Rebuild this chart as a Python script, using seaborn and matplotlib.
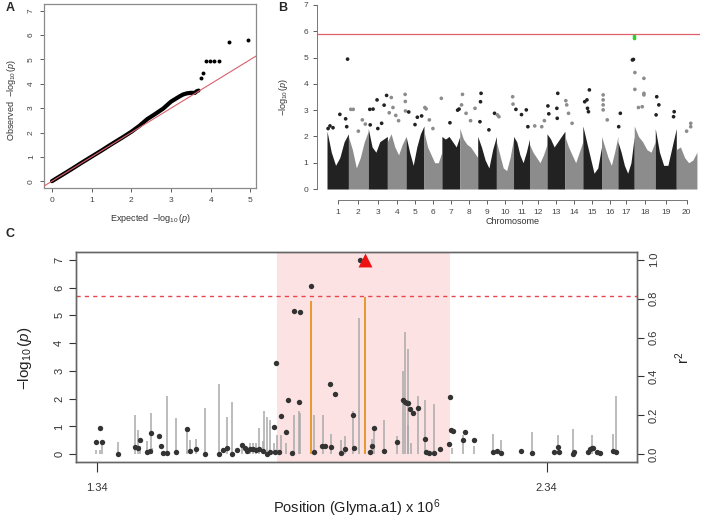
import numpy as np
import pandas as pd
import matplotlib
matplotlib.use('Agg')
import matplotlib.pyplot as plt
import seaborn as sns

sns.set_style('ticks')
plt.rcParams['font.family'] = ['Liberation Sans', 'DejaVu Sans']
plt.rcParams['mathtext.fontset'] = 'custom'
plt.rcParams['mathtext.rm'] = 'Liberation Sans'
plt.rcParams['mathtext.it'] = 'Liberation Sans:italic'

# ---- A: QQ plot ----
qq_exp = [0.0, 0.25, 0.5, 0.75, 1.0, 1.25, 1.5, 1.75, 2.0, 2.2, 2.4, 2.6, 2.8,
          3.0, 3.1, 3.2, 3.3, 3.4, 3.5, 3.6, 3.65]
qq_obs = [0.0, 0.25, 0.5, 0.76, 1.01, 1.26, 1.52, 1.77, 2.03, 2.27, 2.55, 2.76, 2.98,
          3.27, 3.37, 3.47, 3.56, 3.61, 3.63, 3.63, 3.70]
qq_top_exp = [3.68, 3.75, 3.80, 3.88, 3.97, 4.07, 4.22, 4.45, 4.94]
qq_top_obs = [3.75, 4.22, 4.44, 4.93, 4.95, 4.95, 4.95, 5.71, 5.82]

# ---- B: Manhattan plot ----
chrom_mb = [55, 51, 49, 48, 46, 46, 46, 46, 48, 44, 41, 45, 46, 46, 48, 42, 42, 54, 54, 53]
prof_rel = [0.0, 0.2, 0.4, 0.6, 0.8, 1.0]
chrom_profile = [
    [2.2, 1.4, 0.9, 1.2, 1.8, 2.1],
    [2.0, 1.5, 0.8, 1.2, 1.8, 2.2],
    [2.3, 1.6, 1.4, 1.8, 1.9, 2.0],
    [1.8, 2.1, 1.6, 1.3, 1.7, 2.0],
    [2.0, 1.4, 0.9, 1.6, 2.1, 2.4],
    [2.2, 1.6, 1.3, 1.0, 1.0, 1.4],
    [2.0, 1.9, 2.0, 1.8, 1.6, 2.0],
    [2.3, 1.9, 1.7, 1.6, 1.4, 1.2],
    [2.0, 1.6, 1.1, 0.8, 1.5, 2.0],
    [1.8, 1.3, 0.8, 0.7, 1.2, 1.9],
    [2.0, 1.8, 1.3, 1.0, 1.4, 1.9],
    [1.7, 1.4, 1.2, 1.0, 1.3, 1.7],
    [2.1, 1.9, 1.6, 1.8, 2.0, 2.2],
    [2.0, 1.6, 1.3, 1.0, 1.4, 1.8],
    [2.4, 1.8, 1.2, 0.6, 0.8, 1.6],
    [2.0, 1.6, 1.2, 0.9, 1.4, 2.0],
    [1.8, 1.4, 0.9, 0.6, 1.0, 2.0],
    [2.4, 2.0, 1.8, 1.5, 1.4, 1.8],
    [2.3, 1.4, 0.9, 0.9, 1.6, 2.3],
    [1.5, 1.6, 1.2, 1.0, 1.1, 1.4],
]
hit_chr = [1, 1, 1, 1, 1, 1, 1,
           2, 2, 2, 2, 2,
           3, 3, 3, 3, 3, 3, 3, 3,
           4, 4, 4, 4, 4, 4, 4, 4,
           5, 5, 5, 5,
           6, 6, 6, 6, 6,
           7, 7, 7,
           8, 8, 8, 8, 8,
           9, 9, 9, 9, 9,
           10, 10, 10, 10,
           11, 11, 11, 11,
           12, 12, 12,
           13, 13, 13, 13, 13,
           14, 14, 14, 14,
           15, 15, 15, 15, 15,
           16, 16, 16, 16, 16,
           17, 17, 17, 17,
           18, 18, 18, 18, 18, 18, 18,
           19, 19, 19, 19, 19,
           20, 20, 20]
hit_rel = [0.14, 0.28, 0.60, 0.87, 0.92, 0.96, 0.05,
           0.12, 0.24, 0.70, 0.85, 0.50,
           0.08, 0.25, 0.46, 0.83, 0.96, 0.10, 0.50, 0.70,
           0.10, 0.21, 0.30, 0.45, 0.60, 0.95, 0.96, 0.97,
           0.15, 0.63, 0.87, 0.50,
           0.05, 0.12, 0.30, 0.50, 0.97,
           0.45, 0.88, 0.96,
           0.15, 0.10, 0.35, 0.85, 0.60,
           0.18, 0.15, 0.12, 0.60, 0.90,
           0.06, 0.15, 0.95, 0.97,
           0.15, 0.50, 0.80, 0.90,
           0.30, 0.70, 0.85,
           0.05, 0.10, 0.60, 0.55, 0.57,
           0.05, 0.10, 0.20, 0.40,
           0.35, 0.22, 0.10, 0.25, 0.30,
           0.10, 0.10, 0.10, 0.10, 0.35,
           0.15, 0.05, 0.89, 0.95,
           0.03, 0.03, 0.46, 0.46, 0.46, 0.38, 0.20,
           0.07, 0.17, 0.04, 0.90, 0.87,
           0.70, 0.70, 0.50]
hit_val = [2.40, 2.33, 2.84, 2.67, 2.37, 4.94, 2.30,
           3.03, 3.03, 2.63, 2.47, 2.20,
           3.03, 3.04, 3.39, 3.19, 3.56, 2.44, 2.30, 2.50,
           2.90, 3.48, 3.10, 2.80, 2.60, 3.60, 3.33, 2.97,
           2.93, 2.73, 2.78, 2.45,
           3.10, 3.05, 2.63, 2.30, 3.45,
           2.52, 3.00, 3.04,
           3.60, 3.20, 2.88, 3.07, 2.60,
           3.64, 3.32, 2.56, 2.25, 2.88,
           2.82, 2.75, 3.51, 3.23,
           3.03, 2.83, 3.01, 2.37,
           2.40, 2.37, 2.60,
           3.16, 2.86, 3.64, 3.07, 2.69,
           3.36, 3.20, 2.88, 2.50,
           3.77, 3.39, 3.32, 3.07, 2.94,
           3.58, 3.39, 3.20, 3.01, 2.63,
           2.88, 2.37, 4.91, 4.93,
           4.43, 3.79, 4.21, 3.64, 3.58, 3.13, 3.10,
           3.51, 3.20, 2.82, 2.94, 2.75,
           2.50, 2.37, 2.20]
sig_chr = [17, 17]
sig_rel = [0.97, 0.97]
sig_val = [5.82, 5.73]
gw_threshold = 5.9

# ---- C: regional plot ----
snp_pos = [1.339, 1.347, 1.352, 1.388, 1.425, 1.431, 1.437, 1.451, 1.458, 1.460,
           1.478, 1.482, 1.487, 1.497, 1.517, 1.540, 1.547, 1.561, 1.581, 1.611,
           1.620, 1.630, 1.640, 1.652, 1.663, 1.670, 1.675, 1.681, 1.688, 1.694,
           1.701, 1.709, 1.718, 1.726, 1.734, 1.736, 1.738, 1.746, 1.749, 1.761,
           1.765, 1.775, 1.778, 1.789, 1.792, 1.816, 1.822, 1.841, 1.848, 1.859,
           1.861, 1.870, 1.882, 1.893, 1.909, 1.913, 1.925, 1.947, 1.952, 1.957,
           1.979, 2.007, 2.020, 2.025, 2.029, 2.032, 2.036, 2.043, 2.055, 2.070,
           2.072, 2.079, 2.090, 2.104, 2.122, 2.126, 2.127, 2.132, 2.155, 2.158,
           2.178, 2.220, 2.229, 2.238, 2.284, 2.308, 2.357, 2.365, 2.368, 2.399,
           2.401, 2.431, 2.436, 2.440, 2.444, 2.451, 2.459, 2.487, 2.494]
snp_logp = [0.44, 0.95, 0.44, 0.00, 0.26, 0.21, 0.51, 0.07, 0.11, 0.78,
            0.66, 0.30, 0.05, 0.06, 0.08, 0.90, 0.12, 0.19, 0.02, 0.00,
            0.14, 0.21, 0.01, 0.14, 0.34, 0.23, 0.11, 0.17, 0.17, 0.16,
            0.18, 0.11, 0.02, 0.07, 0.98, 0.08, 3.30, 0.08, 1.38, 0.80,
            1.94, 0.03, 5.15, 1.89, 5.13, 6.05, 0.08, 0.29, 0.29, 2.54,
            0.26, 2.15, 0.06, 0.18, 1.41, 0.22, 7.00, 0.07, 0.29, 0.94,
            0.12, 0.45, 1.96, 1.88, 1.86, 1.86, 1.64, 1.49, 1.66, 0.56,
            0.07, 0.06, 0.06, 0.17, 0.38, 2.05, 0.87, 0.84, 0.51, 0.80,
            0.51, 0.08, 0.10, 0.05, 0.11, 0.05, 0.07, 0.26, 0.07, 0.00,
            0.08, 0.09, 0.20, 0.21, 0.21, 0.08, 0.06, 0.10, 0.08]
ld_pos = [1.339, 1.347, 1.352, 1.388, 1.425, 1.431, 1.437, 1.451, 1.460, 1.463,
          1.497, 1.517, 1.540, 1.547, 1.561, 1.581, 1.611, 1.630, 1.640, 1.663,
          1.681, 1.688, 1.694, 1.701, 1.709, 1.712, 1.718, 1.726, 1.734, 1.741,
          1.750, 1.761, 1.778, 1.789, 1.792, 1.822, 1.843, 1.861, 1.882, 1.893,
          1.909, 1.924, 1.952, 1.957, 1.979, 2.007, 2.020, 2.025, 2.031, 2.033,
          2.038, 2.055, 2.070, 2.090, 2.130, 2.155, 2.178, 2.220, 2.238, 2.308,
          2.365, 2.399, 2.440, 2.487, 2.494]
ld_r2 = [0.02, 0.02, 0.07, 0.064, 0.20, 0.125, 0.04, 0.068, 0.21, 0.03,
         0.30, 0.185, 0.125, 0.073, 0.077, 0.24, 0.36, 0.19, 0.27, 0.04,
         0.06, 0.06, 0.06, 0.135, 0.07, 0.22, 0.19, 0.175, 0.06, 0.10,
         0.10, 0.056, 0.20, 0.22, 0.21, 0.20, 0.20, 0.104, 0.073, 0.094,
         0.22, 0.70, 0.077, 0.128, 0.176, 0.094, 0.43, 0.63, 0.54, 0.15,
         0.06, 0.30, 0.28, 0.26, 0.03, 0.099, 0.04, 0.104, 0.073, 0.116,
         0.099, 0.13, 0.099, 0.104, 0.30]
top_ld_pos = [1.816, 1.936]
top_ld_r2 = [0.79, 0.81]
lead_pos = [1.937]
lead_logp = [7.0]
candidate_region = (1.74, 2.125)
region_threshold = 5.68

W, H = 708, 520
fig = plt.figure(figsize=(W / 100, H / 100), dpi=100)


def px_axes(l, t, r, b):
    return fig.add_axes([l / W, 1 - b / H, (r - l) / W, (b - t) / H])


tick_col = '#444444'

# ---------- A ----------
axA = px_axes(44, 4, 256, 188)
sns.lineplot(x=qq_exp, y=qq_obs, ax=axA, color='black', lw=3.0, sort=False, zorder=2)
sns.scatterplot(x=qq_top_exp, y=qq_top_obs, ax=axA, color='black', s=8, linewidth=0, zorder=3)
axA.axline((0, 0), slope=1, color='#d9606c', lw=0.8, zorder=4)
axA.set_xlim(-0.2, 5.14)
axA.set_ylim(-0.28, 7.28)
axA.set_xticks(range(0, 6))
axA.set_yticks(range(0, 8))
axA.set_xlabel('')
axA.set_ylabel('')
for s in axA.spines.values():
    s.set_color('#8a8a8a')
    s.set_linewidth(0.9)
axA.tick_params(labelsize=6, colors=tick_col, length=3, width=0.6)
axA.tick_params(axis='y', labelrotation=90)
for lab in axA.get_yticklabels():
    lab.set_va('center')
fig.text(150 / W, 1 - 218 / H, r'Expected  $-\log_{10}(p)$', ha='center', va='center',
         fontsize=6.5, color='#333333')
fig.text(12 / W, 1 - 100 / H, r'Observed  $-\log_{10}(p)$', ha='center', va='center',
         rotation=90, fontsize=6.5, color='#333333')

# ---------- B ----------
axB = px_axes(317, 0, 700, 196)
offsets = np.concatenate([[0], np.cumsum(chrom_mb)[:-1]])
centers = offsets + np.array(chrom_mb) / 2
for i, (off, ln, prof) in enumerate(zip(offsets, chrom_mb, chrom_profile)):
    col = '#222222' if i % 2 == 0 else '#8c8c8c'
    xs = off + np.array(prof_rel) * ln
    axB.fill_between(xs, 0, prof, color=col, lw=0, zorder=2)
hits = pd.DataFrame({'chr': hit_chr, 'rel': hit_rel, 'val': hit_val})
hits['x'] = offsets[hits.chr - 1] + hits.rel * np.array(chrom_mb)[hits.chr - 1]
hits['col'] = np.where(hits.chr % 2 == 1, 'odd', 'even')
sns.scatterplot(data=hits, x='x', y='val', hue='col', palette={'odd': '#222222', 'even': '#8c8c8c'},
                s=7, linewidth=0, ax=axB, legend=False, zorder=3)
sig_x = offsets[np.array(sig_chr) - 1] + np.array(sig_rel) * np.array(chrom_mb)[np.array(sig_chr) - 1]
sns.scatterplot(x=sig_x, y=sig_val, color='#2fcf2f', s=7, linewidth=0, ax=axB, zorder=4)
axB.axhline(gw_threshold, color='#e0606a', lw=0.9, zorder=1)
axB.set_xlim(-25.7, 957.9)
axB.set_ylim(-0.266, 7.19)
axB.set_xticks(centers)
axB.set_xticklabels([str(i) for i in range(1, 21)])
axB.set_yticks(range(0, 8))
axB.set_xlabel('')
axB.set_ylabel('')
for k in ['top', 'right']:
    axB.spines[k].set_visible(False)
axB.spines['left'].set_bounds(0, 7)
axB.spines['bottom'].set_bounds(centers[0], centers[-1])
axB.spines['bottom'].set_position(('outward', 3))
for k in ['left', 'bottom']:
    axB.spines[k].set_color('#777777')
    axB.spines[k].set_linewidth(0.7)
axB.tick_params(labelsize=6, colors=tick_col, length=3, width=0.6)
fig.text(512 / W, 1 - 222 / H, 'Chromosome', ha='center', va='center', fontsize=6.5, color='#333333')
fig.text(283 / W, 1 - 97 / H, r'$-\log_{10}(p)$', ha='center', va='center', rotation=90,
         fontsize=6.5, color='#333333')

# ---------- C ----------
axC = px_axes(76, 252, 637, 462)
axR = axC.twinx()
axR.axvspan(*candidate_region, color='#fde2e3', lw=0, zorder=0)
axR.vlines(ld_pos, 0, ld_r2, color='#a9a9a9', lw=1.1, zorder=2)
axR.vlines(top_ld_pos, 0, top_ld_r2, color='#e8972e', lw=1.4, zorder=3)
axR.set_ylim(-0.04, 1.04)
axR.set_yticks(np.arange(0, 1.01, 0.2))
axR.set_yticklabels(['0.0', '0.2', '0.4', '0.6', '0.8', '1.0'])
axC.set_zorder(axR.get_zorder() + 1)
axC.patch.set_visible(False)
axC.axhline(region_threshold, color='#e8454d', lw=1, ls=(0, (3, 3)), zorder=1)
sns.scatterplot(x=snp_pos, y=snp_logp, color='#333333', s=15, linewidth=0, ax=axC, zorder=3)
sns.scatterplot(x=lead_pos, y=lead_logp, color='#ee1111', marker='^', s=100, linewidth=0,
                ax=axC, zorder=4)
axC.set_xlim(1.294, 2.541)
axC.set_ylim(-0.28, 7.28)
axC.set_xticks([1.34, 2.34])
axC.set_xticklabels(['1.34', '2.34'])
axC.set_yticks(range(0, 8))
for a in (axC, axR):
    for s in a.spines.values():
        s.set_color('#666666')
        s.set_linewidth(1.0)
    a.tick_params(labelsize=8, colors='#333333', length=5, width=0.8)
    a.tick_params(axis='y', labelrotation=90)
axC.tick_params(axis='x', length=7, pad=8)
for lab in axC.get_yticklabels() + axR.get_yticklabels():
    lab.set_va('center')
fig.text(357 / W, 1 - 508 / H, r'Position (Glyma.a1) x 10$^{6}$', ha='center',
         va='center', fontsize=10.5, color='#222222')
fig.text(25 / W, 1 - 358 / H, r'$-\log_{10}(p)$', ha='center', va='center', rotation=90,
         fontsize=11, color='#222222')
fig.text(683 / W, 1 - 358 / H, r'$\mathrm{r}^2$', ha='center', va='center', rotation=90,
         fontsize=10.5, color='#222222')

for lbl, x, y in [('A', 10, 8), ('B', 283, 8), ('C', 10, 234)]:
    fig.text(x / W, 1 - y / H, lbl, ha='center', va='center', fontsize=9, fontweight='bold')

fig.savefig('out.png', dpi=100)
